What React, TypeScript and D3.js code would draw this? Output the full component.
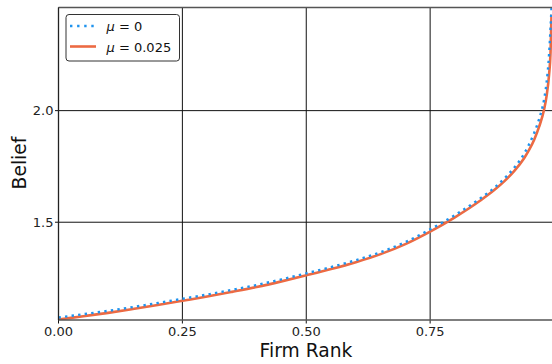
import React from "react";
import * as d3 from "d3";

const rank = [0, 0.05, 0.1, 0.15, 0.2, 0.25, 0.3, 0.35, 0.4, 0.45, 0.5, 0.55, 0.6, 0.65, 0.7, 0.75, 0.8, 0.85, 0.88, 0.9, 0.92, 0.94, 0.95, 0.96, 0.97, 0.98, 0.985, 0.99, 0.993, 0.995];
const beliefMu0025 = [1.064, 1.079, 1.094, 1.111, 1.129, 1.148, 1.167, 1.188, 1.21, 1.235, 1.262, 1.29, 1.321, 1.357, 1.402, 1.458, 1.522, 1.595, 1.645, 1.684, 1.73, 1.788, 1.825, 1.87, 1.928, 2.005, 2.065, 2.16, 2.26, 2.43];
const beliefMu0 = [1.073, 1.088, 1.103, 1.12, 1.138, 1.157, 1.176, 1.197, 1.219, 1.244, 1.271, 1.299, 1.33, 1.366, 1.411, 1.468, 1.532, 1.605, 1.655, 1.696, 1.745, 1.808, 1.85, 1.9, 1.963, 2.05, 2.125, 2.25, 2.37, 2.462];
const xTicks = [0, 0.25, 0.5, 0.75];
const yTicks = [1.5, 2.0];
const seriesNames = ["0", "0.025"];

const W = 552, H = 364;
const L = 58.5, R = 554, T = 7.5, B = 320;
const FONT = "DejaVu Sans, sans-serif";
const BLUE = "#1f93ee";
const ORANGE = "#ec6a43";

export default function App() {
  const x = d3.scaleLinear().domain([0, 1]).range([L, R]);
  const y = d3.scaleLinear().domain([1.062, 2.462]).range([B, T]);
  const line = d3.line<number>().x((_, i) => x(rank[i])).y((v) => y(v)).curve(d3.curveMonotoneX);

  return (
    <svg width={W} height={H} style={{ position: "absolute", left: 0, top: 0, background: "#fff" }} fontFamily={FONT}>
      <defs>
        <clipPath id="plot">
          <rect x={L} y={T} width={R - L} height={B - T} />
        </clipPath>
      </defs>
      {/* grid */}
      {xTicks.map((t) => (
        <line key={"gx" + t} x1={x(t)} x2={x(t)} y1={T} y2={B + 3.5} stroke="#111" strokeWidth={1} />
      ))}
      {yTicks.map((t) => (
        <line key={"gy" + t} x1={L - 3.5} x2={R} y1={y(t)} y2={y(t)} stroke="#111" strokeWidth={1} />
      ))}
      {/* curves */}
      <g clipPath="url(#plot)">
        <path d={line(beliefMu0025) || ""} fill="none" stroke={ORANGE} strokeWidth={2.6} />
        <path d={line(beliefMu0) || ""} fill="none" stroke={BLUE} strokeWidth={2.4} strokeDasharray="2.4 4.2" />
      </g>
      {/* spines */}
      <line x1={L} x2={R} y1={T} y2={T} stroke="#555" strokeWidth={1.3} />
      <line x1={L} x2={R} y1={B} y2={B} stroke="#555" strokeWidth={1.3} />
      <line x1={L} x2={L} y1={T} y2={B} stroke="#222" strokeWidth={1.3} />
      {/* tick labels */}
      {xTicks.map((t) => (
        <text key={"tx" + t} x={x(t)} y={335.5} fontSize={13} textAnchor="middle" fill="#222">
          {d3.format(".2f")(t)}
        </text>
      ))}
      {yTicks.map((t) => (
        <text key={"ty" + t} x={53.5} y={y(t) + 4.7} fontSize={13} textAnchor="end" fill="#222">
          {d3.format(".1f")(t)}
        </text>
      ))}
      {/* axis labels */}
      <text x={306} y={357} fontSize={18.7} textAnchor="middle" fill="#111">Firm Rank</text>
      <text transform="translate(25.5,163) rotate(-90)" fontSize={18.7} textAnchor="middle" fill="#111">Belief</text>
      {/* legend */}
      <rect x={66} y={14.5} width={113.5} height={46.5} rx={3} fill="#fff" stroke="#333" strokeWidth={1} />
      <line x1={70} x2={96} y1={26} y2={26} stroke={BLUE} strokeWidth={2.4} strokeDasharray="2.4 4.7" />
      <line x1={70} x2={96} y1={46.5} y2={46.5} stroke={ORANGE} strokeWidth={2.6} />
      {seriesNames.map((s, i) => (
        <text key={s} x={106.5} y={31 + i * 20.5} fontSize={13} fill="#111">
          <tspan fontStyle="italic">μ</tspan>
          <tspan> = {s}</tspan>
        </text>
      ))}
    </svg>
  );
}
